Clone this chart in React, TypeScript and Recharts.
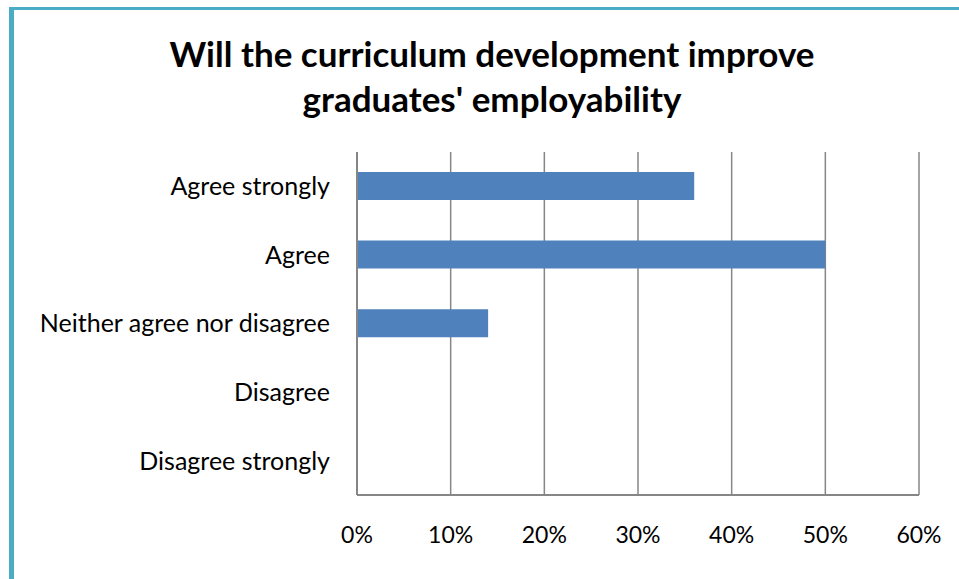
import { BarChart, Bar, XAxis, YAxis, CartesianGrid } from 'recharts';

const categories = [
  'Agree strongly',
  'Agree',
  'Neither agree nor disagree',
  'Disagree',
  'Disagree strongly',
];
const shares = [36, 50, 14, 0, 0];
const xTicks = [0, 10, 20, 30, 40, 50, 60];

const data = categories.map((name, i) => ({ name, value: shares[i] }));

const axisColor = '#868686';
const font = 'Lato, "Open Sans", sans-serif';

const App = () => {
  return (
    <div
      style={{
        position: 'absolute',
        left: 0,
        top: 0,
        width: 959,
        height: 579,
        background: '#fff',
        overflow: 'hidden',
        fontFamily: font,
      }}
    >
      {/* frame: only the top and left edges are in view */}
      <div style={{ position: 'absolute', left: 9, top: 7, right: -10, bottom: -10, borderTop: '3px solid #4bacc6', borderLeft: '5px solid #4bacc6' }} />
      <div
        style={{
          position: 'absolute',
          left: 0,
          width: 984,
          top: 31,
          textAlign: 'center',
          fontSize: 35,
          fontWeight: 700,
          lineHeight: '45px',
          color: '#000',
        }}
      >
        Will the curriculum development improve
        <br />
        graduates' employability
      </div>
      <div style={{ position: 'absolute', left: 0, top: 0 }}>
        <BarChart
          width={959}
          height={579}
          data={data}
          layout="vertical"
          margin={{ top: 152, right: 40, left: 0, bottom: 0 }}
          barSize={28}
        >
          <CartesianGrid horizontal={false} stroke={axisColor} strokeWidth={1.5} />
          <XAxis
            type="number"
            domain={[0, 60]}
            ticks={xTicks}
            tickFormatter={(v: number) => `${v}%`}
            height={84}
            tickSize={0}
            tickMargin={32}
            tickLine={false}
            stroke={axisColor}
            strokeWidth={2}
            tick={{ fill: '#000', fontSize: 23, fontFamily: font }}
          />
          <YAxis
            type="category"
            dataKey="name"
            width={357}
            tickSize={0}
            tickMargin={27}
            tickLine={false}
            stroke={axisColor}
            strokeWidth={2}
            tick={{ fill: '#000', fontSize: 25, fontFamily: font }}
          />
          <Bar dataKey="value" fill="#4f81bd" isAnimationActive={false} />
        </BarChart>
      </div>
    </div>
  );
};

export default App;
